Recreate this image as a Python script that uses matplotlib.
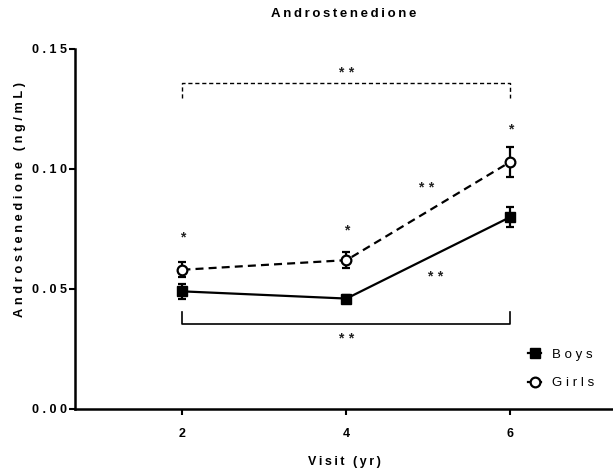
import numpy as np
import matplotlib
matplotlib.use('Agg')
import matplotlib.pyplot as plt
from matplotlib.lines import Line2D

plt.rcParams['font.family'] = ['Liberation Sans', 'DejaVu Sans']

visits = [2, 4, 6]
boys_mean = [0.049, 0.046, 0.080]
boys_sem = [0.003, 0.0015, 0.0043]
girls_mean = [0.058, 0.062, 0.103]
girls_sem = [0.0031, 0.0034, 0.0062]

y_ticks = [0.00, 0.05, 0.10, 0.15]
x_ticks = [2, 4, 6]

# significance marks: (x, y, text)
stars = [
    (2, 0.0715, '*'),
    (4, 0.0745, '*'),
    (6, 0.1165, '*'),
    (4.97, 0.0920, '**'),
    (5.08, 0.0548, '**'),
    (4, 0.0290, '**'),
    (4, 0.1400, '**'),
]
# brackets: girls 2 vs 6 (dashed, above), boys 2 vs 6 (solid, below)
girls_bracket = (2, 6, 0.1360, 0.1296)
boys_bracket = (2, 6, 0.0354, 0.0404)

THIN = '\u2009'
HAIR = '\u200a'
WIDE = THIN + HAIR


def spaced(s, sep=THIN):
    return sep.join(s)


fig = plt.figure(figsize=(6.13, 4.75), dpi=100)
ax = fig.add_axes([0.1223, 0.139, 0.8777, 0.758])

girls_ls = (0, (3.6, 2.3))
ax.errorbar(visits, boys_mean, yerr=boys_sem, color='black', lw=1.6,
            marker='s', ms=7, capsize=3.2, capthick=1.6, elinewidth=1.6)
ax.errorbar(visits, girls_mean, yerr=girls_sem, color='black', lw=1.6,
            ls=girls_ls, marker='o', ms=7, mfc='white', mew=1.6,
            capsize=3.2, capthick=1.6, elinewidth=1.6)

x0, x1, ytop, yleg = girls_bracket
ax.plot([x0, x0, x1, x1], [yleg, ytop, ytop, yleg], color='black', lw=1.0,
        ls=(0, (3, 2)))
x0, x1, ybot, yleg = boys_bracket
ax.plot([x0, x0, x1, x1], [yleg, ybot, ybot, yleg], color='black', lw=1.2)

for x, y, t in stars:
    ax.text(x, y, spaced(t, THIN + THIN), ha='center', va='center',
            fontsize=10, fontweight='bold', color='#222222')

ax.set_xlim(0.69, 7.25)
ax.set_ylim(0, 0.15)
ax.set_xticks(x_ticks)
ax.set_xticklabels([str(v) for v in x_ticks])
ax.set_yticks(y_ticks)
ax.set_yticklabels([spaced(f'{v:.2f}', WIDE) for v in y_ticks])
plt.setp(ax.get_xticklabels() + ax.get_yticklabels(), fontweight='bold',
         fontsize=9)
ax.tick_params(direction='out', length=4, width=1.5)
ax.tick_params(axis='x', pad=10)
ax.tick_params(axis='y', pad=2)

for s in ['top', 'right']:
    ax.spines[s].set_visible(False)
for s in ['left', 'bottom']:
    ax.spines[s].set_linewidth(1.8)

ax.text(0.5, 1.097, spaced('Androstenedione'), transform=ax.transAxes,
        ha='center', va='center', fontsize=9.5, fontweight='bold')
ax.set_xlabel(spaced('Visit (yr)'), fontsize=9, fontweight='bold')
ax.xaxis.set_label_coords(0.5, -0.147)
ax.xaxis.label.set_va('center')
ax.set_ylabel(spaced('Androstenedione (ng/mL)', WIDE), fontsize=9.2,
              fontweight='bold')
ax.yaxis.set_label_coords(-0.103, 0.583)
ax.yaxis.label.set_va('center')

handles = [
    Line2D([], [], color='black', lw=1.6, marker='s', ms=7),
    Line2D([], [], color='black', lw=1.6, marker='o', ms=7, mfc='white',
           mew=1.6),
]
ax.legend(handles, [spaced('Boys', WIDE), spaced('Girls', WIDE)],
          loc='center left', bbox_to_anchor=(0.82, 0.111), frameon=False,
          fontsize=9.5, handlelength=1.0, handletextpad=0.8,
          labelspacing=1.25)

fig.savefig('out.png', dpi=100)
